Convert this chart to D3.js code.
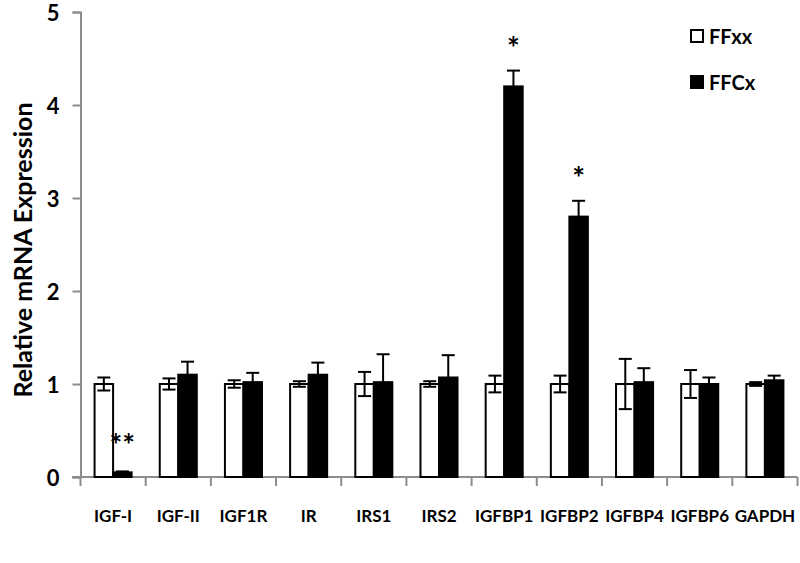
<!DOCTYPE html>
<html><head><meta charset="utf-8">
<script src="https://cdn.jsdelivr.net/npm/d3@7"></script>
<style>body{margin:0;background:#fff;} text{font-family:Lato,"Open Sans",sans-serif;font-weight:bold;}</style>
</head><body>
<svg id="c" width="800" height="563"></svg>
<script>
const categories = ["IGF-I","IGF-II","IGF1R","IR","IRS1","IRS2","IGFBP1","IGFBP2","IGFBP4","IGFBP6","GAPDH"];
const seriesNames = ["FFxx","FFCx"];
const ffxx = [1.0,1.0,1.0,1.0,1.0,1.0,1.0,1.0,1.0,1.0,1.0];
const ffxxErr = [0.07,0.06,0.04,0.03,0.13,0.03,0.09,0.09,0.27,0.15,0.02];
const ffcx = [0.05,1.1,1.02,1.1,1.02,1.07,4.2,2.8,1.02,1.0,1.04];
const ffcxErr = [0.01,0.14,0.1,0.13,0.3,0.24,0.17,0.17,0.15,0.07,0.05];
const signif = ["**","","","","","","*","*","","",""];
const yTicks = [0,1,2,3,4,5];

const svg = d3.select("#c");
const x = d3.scaleBand().domain(categories).range([80.5,797.5]).paddingInner(0).paddingOuter(0);
const y = d3.scaleLinear().domain([0,5]).range([477,12]);
const xs = d3.scaleBand().domain(seriesNames).range([0,x.bandwidth()]).paddingInner(0).paddingOuter(0.76);
const axisColor = "#8c8c8c";

// y axis
const ya = svg.append("g").attr("transform","translate(80.5,0)")
  .call(d3.axisLeft(y).tickValues(yTicks).tickSize(8).tickPadding(13).tickFormat(d3.format("d")));
ya.select(".domain").attr("stroke",axisColor).attr("stroke-width",2);
ya.selectAll(".tick line").attr("stroke",axisColor).attr("stroke-width",2);
ya.selectAll(".tick text").attr("font-size",22).attr("fill","#000").attr("font-family","Liberation Sans").attr("font-weight","bold").attr("dy","0.4em");

// x axis baseline and ticks
const xg = svg.append("g");
xg.append("line").attr("x1",72).attr("x2",x.range()[1]).attr("y1",y(0)).attr("y2",y(0))
  .attr("stroke",axisColor).attr("stroke-width",2);
const bounds = categories.map(c=>x(c)).concat([x.range()[1]]);
xg.selectAll("line.t").data(bounds).enter().append("line").attr("class","t")
  .attr("x1",d=>d).attr("x2",d=>d).attr("y1",y(0)).attr("y2",y(0)+9)
  .attr("stroke",axisColor).attr("stroke-width",2);
// category labels (horizontal, sized to fit each band)
xg.selectAll("text.xl").data(categories).enter().append("text").attr("class","xl")
  .attr("x",d=>x(d)+x.bandwidth()/2).attr("y",y(0)+45)
  .attr("text-anchor","middle").attr("font-size",17).text(d=>d);

// y label
svg.append("text").attr("transform","translate(32,250) rotate(-90)").attr("text-anchor","middle")
  .attr("font-size",25).text("Relative mRNA Expression");

const series = [
  {name:"FFxx", vals:ffxx, err:ffxxErr, fill:"#fff"},
  {name:"FFCx", vals:ffcx, err:ffcxErr, fill:"#000"}
];
series.forEach(s=>{
  const g = svg.append("g");
  g.selectAll("rect").data(categories).enter().append("rect")
    .attr("x",(d)=>x(d)+xs(s.name)).attr("width",xs.bandwidth())
    .attr("y",(d,i)=>y(s.vals[i])).attr("height",(d,i)=>y(0)-y(s.vals[i]))
    .attr("fill",s.fill).attr("stroke","#000").attr("stroke-width",2);
  const eg = g.selectAll("g.e").data(categories).enter().append("g");
  eg.each(function(d,i){
    const cx = x(d)+xs(s.name)+xs.bandwidth()/2;
    const top = y(s.vals[i]+s.err[i]), bot = y(Math.max(0,s.vals[i]-s.err[i]));
    const sel = d3.select(this);
    sel.append("line").attr("x1",cx).attr("x2",cx).attr("y1",top).attr("y2",bot).attr("stroke","#000").attr("stroke-width",2);
    sel.append("line").attr("x1",cx-6.5).attr("x2",cx+6.5).attr("y1",top).attr("y2",top).attr("stroke","#000").attr("stroke-width",2);
    sel.append("line").attr("x1",cx-6.5).attr("x2",cx+6.5).attr("y1",bot).attr("y2",bot).attr("stroke","#000").attr("stroke-width",2);
  });
});

// significance markers
svg.selectAll("text.sig").data(categories).enter().append("text").attr("class","sig")
  .attr("x",d=>x(d)+xs("FFCx")+xs.bandwidth()/2)
  .attr("y",(d,i)=>y(ffcx[i]+ffcxErr[i])-12 + (signif[i]==="**"?-3:0))
  .attr("text-anchor","middle").attr("font-size",30).attr("font-family","DejaVu Sans").text((d,i)=>signif[i]);

// legend
const lg = svg.append("g");
series.forEach((s,i)=>{
  lg.append("rect").attr("x",691).attr("y",30+i*46).attr("width",12).attr("height",12)
    .attr("fill",s.fill).attr("stroke","#000").attr("stroke-width",2);
  lg.append("text").attr("x",709).attr("y",44+i*46).attr("font-size",20).text(s.name);
});
</script>
</body></html>
